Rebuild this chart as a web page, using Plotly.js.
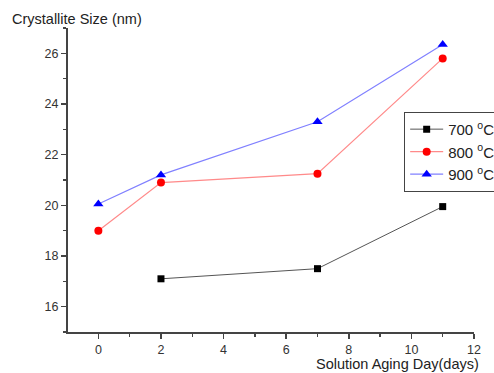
<!DOCTYPE html>
<html>
<head>
<meta charset="utf-8">
<script src="https://cdn.plot.ly/plotly-3.0.1.min.js"></script>
<style>html,body{margin:0;padding:0;background:#fff;}#chart{width:494px;height:373px;}</style>
</head>
<body>
<div id="chart"></div>
<script>
const days700 = [2, 7, 11];
const size700 = [17.1, 17.5, 19.95];
const days800 = [0, 2, 7, 11];
const size800 = [19.0, 20.9, 21.25, 25.8];
const days900 = [0, 2, 7, 11];
const size900 = [20.05, 21.2, 23.3, 26.35];
const seriesNames = ['700 <sup>o</sup>C', '800 <sup>o</sup>C', '900 <sup>o</sup>C'];
const xTicks = [0, 2, 4, 6, 8, 10, 12];
const yTicks = [16, 18, 20, 22, 24, 26];

const font = {family: 'Liberation Sans, Arial, sans-serif', color: '#222', size: 12};

const traces = [
  {x: days700, y: size700, name: seriesNames[0], mode: 'lines+markers', type: 'scatter',
   line: {color: '#555555', width: 1}, marker: {symbol: 'square', size: 7, color: '#000'}},
  {x: days800, y: size800, name: seriesNames[1], mode: 'lines+markers', type: 'scatter',
   line: {color: '#ff8a8a', width: 1.2}, marker: {symbol: 'circle', size: 8, color: '#ff0000'}},
  {x: days900, y: size900, name: seriesNames[2], mode: 'lines+markers', type: 'scatter',
   line: {color: '#8080ff', width: 1.2}, marker: {symbol: 'triangle-up', size: 9, color: '#0000ff'}}
];

const layout = {
  width: 494, height: 373,
  margin: {l: 68, r: 20, t: 28, b: 41, autoexpand: false},
  paper_bgcolor: '#fff', plot_bgcolor: '#fff',
  font: font,
  showlegend: true,
  legend: {x: 0.828, y: 0.724, xanchor: 'left', yanchor: 'top',
    bordercolor: '#444', borderwidth: 1, bgcolor: '#fff',
    font: {family: font.family, size: 15, color: '#222'}, itemwidth: 33, tracegroupgap: 0},
  xaxis: {range: [-0.97, 12], tickvals: xTicks, ticks: 'outside', ticklen: 5, tickwidth: 1.5,
    tickcolor: '#444', showline: true, linecolor: '#444', linewidth: 2, showgrid: false,
    zeroline: false, tickfont: {size: 12.5, color: '#333'},
    minor: {dtick: 1, tick0: 0, ticks: 'outside', ticklen: 3, tickwidth: 1.5, tickcolor: '#444', showgrid: false}},
  yaxis: {range: [15, 27], tickvals: yTicks, ticks: 'outside', ticklen: 5, tickwidth: 1.5,
    tickcolor: '#444', showline: true, linecolor: '#444', linewidth: 2, showgrid: false,
    zeroline: false, tickfont: {size: 12.5, color: '#333'},
    minor: {dtick: 1, tick0: 15, ticks: 'outside', ticklen: 3, tickwidth: 1.5, tickcolor: '#444', showgrid: false}},
  annotations: [
    {text: 'Crystallite Size (nm)', xref: 'paper', yref: 'paper', x: -0.143, y: 1.03,
     xanchor: 'left', yanchor: 'middle', showarrow: false, font: {size: 14.5, color: '#222'}},
    {text: 'Solution Aging Day(days)', xref: 'paper', yref: 'paper', x: 1.017, y: -0.105,
     xanchor: 'right', yanchor: 'middle', showarrow: false, font: {size: 14.5, color: '#222'}}
  ]
};

Plotly.newPlot('chart', traces, layout, {displayModeBar: false, staticPlot: true});
</script>
</body>
</html>
